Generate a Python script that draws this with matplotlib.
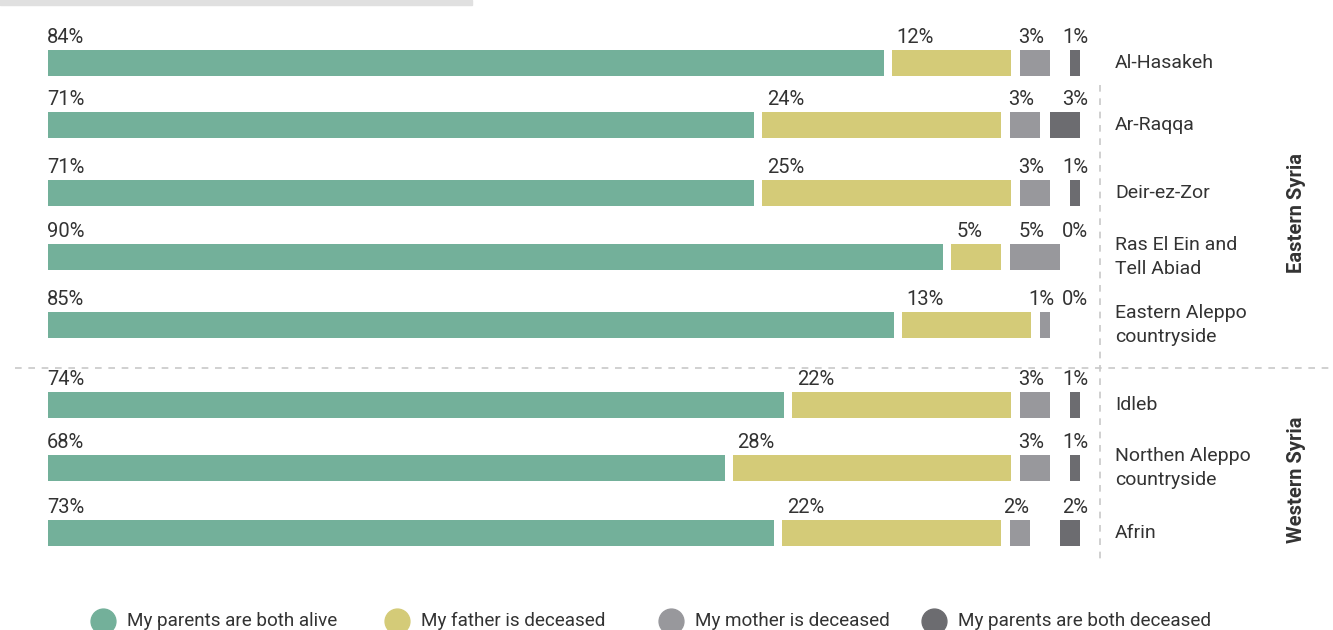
import matplotlib.pyplot as plt
from matplotlib.patches import Rectangle

plt.rcParams['font.family'] = ['Roboto', 'DejaVu Sans']

regions = ['Al-Hasakeh', 'Ar-Raqqa', 'Deir-ez-Zor', 'Ras El Ein and\nTell Abiad',
           'Eastern Aleppo\ncountryside', 'Idleb', 'Northen Aleppo\ncountryside', 'Afrin']
both_alive = [84, 71, 71, 90, 85, 74, 68, 73]
father_dead = [12, 24, 25, 5, 13, 22, 28, 22]
mother_dead = [3, 3, 3, 5, 1, 3, 3, 2]
both_dead = [1, 3, 1, 0, 0, 1, 1, 2]
groups = ['Eastern Syria', 'Western Syria']
legend_labels = ['My parents are both alive', 'My father is deceased',
                 'My mother is deceased', 'My parents are both deceased']

colors = ['#73b09a', '#d4cb78', '#98989c', '#6c6c70']
txt = '#333333'

# layout in pixels (figure is 1333 x 630)
W, H = 1333, 630
x0, ppu = 48, 9.95          # pixel of 0 %, pixels per %
row_y = [63, 125, 193, 257, 325, 405, 468, 533]
bar_h = 26
gap1, gap2 = 0.8, 0.9
dark_end = (1080 - x0) / ppu
dark_lab = (1075 - x0) / ppu

fig = plt.figure(figsize=(W / 100, H / 100), dpi=100)
ax = fig.add_axes([0, 0, 1, 1])
ax.set_xlim(-x0 / ppu, (W - x0) / ppu)
ax.set_ylim(H, 0)
ax.axis('off')

def px(p):
    return (p - x0) / ppu

fs = 14.5
for i, y in enumerate(row_y):
    g, f, m, d = both_alive[i], father_dead[i], mother_dead[i], both_dead[i]
    f_left = g + gap1
    m_left = f_left + f + gap2
    d_left = dark_end - d
    ax.barh(y, g, left=0, height=bar_h, color=colors[0])
    ax.barh(y, f, left=f_left, height=bar_h, color=colors[1])
    ax.barh(y, m, left=m_left, height=bar_h, color=colors[2])
    ax.barh(y, d, left=d_left, height=bar_h, color=colors[3])
    ty = y - bar_h / 2 - 3
    ax.text(-0.1, ty, f'{g}%', ha='left', va='bottom', fontsize=fs, color=txt)
    ax.text(f_left + 0.5, ty, f'{f}%', ha='left', va='bottom', fontsize=fs, color=txt)
    ax.text(m_left + m / 2 - 0.4, ty, f'{m}%', ha='center', va='bottom', fontsize=fs, color=txt)
    ax.text(dark_lab, ty, f'{d}%', ha='center', va='bottom', fontsize=fs, color=txt)
    ax.text(px(1115), y, regions[i], ha='left', va='center', fontsize=14,
            color=txt, linespacing=1.4)

# separators
ax.plot([px(1100), px(1100)], [85, 565], color='#c8c8c8', lw=1.2, ls=(0, (4, 4)))
ax.plot([px(15), px(1333)], [368, 368], color='#c8c8c8', lw=1.2, ls=(0, (4, 4)))

ax.text(px(1297), 213, groups[0], rotation=90, ha='center', va='center',
        fontsize=14.5, fontweight='bold', color=txt)
ax.text(px(1297), 480, groups[1], rotation=90, ha='center', va='center',
        fontsize=14.5, fontweight='bold', color=txt)

# cut off title strip at top
ax.add_patch(Rectangle((px(0), 0), px(472) - px(0), 5, color='#e0e0e0', clip_on=False))

# legend
leg_x = [103, 397, 671, 934]
for lx, lab, c in zip(leg_x, legend_labels, colors):
    ax.scatter(px(lx), 621, s=320, color=c, clip_on=False)
    ax.text(px(lx + 24), 621, lab, ha='left', va='center', fontsize=13.6, color=txt)

fig.savefig('out.png', dpi=100)
